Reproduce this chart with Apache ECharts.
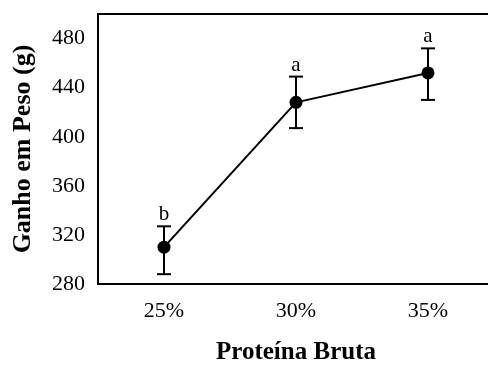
<!DOCTYPE html>
<html>
<head>
<meta charset="utf-8">
<script src="https://cdn.jsdelivr.net/npm/echarts@6/dist/echarts.min.js"></script>
<style>
  html, body { margin: 0; padding: 0; background: #fff; }
  #chart { width: 488px; height: 365px; }
</style>
</head>
<body>
<div id="chart"></div>
<script>
// Weight gain by crude protein level, with standard error and Tukey letters
const categories = ['25%', '30%', '35%'];
const meanGain = [310, 428, 452];
const upperBar = [327, 449, 472];
const lowerBar = [288, 407, 430];
const groupLetters = ['b', 'a', 'a'];
const yTicks = [280, 320, 360, 400, 440, 480];

const serif = '"Liberation Serif", "Times New Roman", serif';

const chart = echarts.init(document.getElementById('chart'));

const errorData = categories.map((c, i) => [i, lowerBar[i], upperBar[i], groupLetters[i]]);

chart.setOption({
  animation: false,
  backgroundColor: '#fff',
  grid: {
    left: 98, top: 14, width: 396, height: 270,
    outerBoundsMode: 'none',
    containLabel: false,
    show: true, borderColor: '#000', borderWidth: 2, backgroundColor: 'transparent'
  },
  xAxis: {
    type: 'category',
    data: categories,
    boundaryGap: true,
    name: 'Proteína Bruta',
    nameLocation: 'middle',
    nameGap: 56,
    nameTextStyle: { fontFamily: serif, fontWeight: 'bold', fontSize: 25, color: '#000' },
    axisLine: { lineStyle: { color: '#000', width: 2 } },
    axisTick: { inside: true, alignWithLabel: true, length: 5, lineStyle: { color: '#000', width: 1.5 } },
    axisLabel: { fontFamily: serif, fontSize: 22, color: '#000', margin: 16 },
    splitLine: { show: false }
  },
  yAxis: {
    type: 'value',
    min: 280, max: 500, interval: 40,
    name: 'Ganho em Peso (g)',
    nameLocation: 'middle',
    nameGap: 62,
    nameTextStyle: { fontFamily: serif, fontWeight: 'bold', fontSize: 26, color: '#000' },
    axisLine: { show: true, lineStyle: { color: '#000', width: 2 } },
    axisTick: { inside: true, length: 5, lineStyle: { color: '#000', width: 1.5 } },
    axisLabel: {
      fontFamily: serif, fontSize: 22, color: '#000', margin: 13,
      formatter: v => (yTicks.indexOf(v) >= 0 ? String(v) : '')
    },
    splitLine: { show: false }
  },
  series: [
    {
      type: 'custom',
      z: 3,
      data: errorData,
      renderItem: function (params, api) {
        const x = api.value(0);
        const lo = api.coord([x, api.value(1)]);
        const hi = api.coord([x, api.value(2)]);
        const cap = 7;
        const style = { stroke: '#000', lineWidth: 2 };
        return {
          type: 'group',
          children: [
            { type: 'line', shape: { x1: hi[0], y1: hi[1], x2: lo[0], y2: lo[1] }, style },
            { type: 'line', shape: { x1: hi[0] - cap, y1: hi[1], x2: hi[0] + cap, y2: hi[1] }, style },
            { type: 'line', shape: { x1: lo[0] - cap, y1: lo[1], x2: lo[0] + cap, y2: lo[1] }, style },
            {
              type: 'text',
              style: {
                x: hi[0], y: hi[1] - 1,
                text: api.value(3),
                font: '21px ' + serif,
                fill: '#000',
                textAlign: 'center',
                textVerticalAlign: 'bottom'
              }
            }
          ]
        };
      }
    },
    {
      type: 'line',
      z: 4,
      data: meanGain,
      symbol: 'circle',
      symbolSize: 13,
      lineStyle: { color: '#000', width: 2 },
      itemStyle: { color: '#000' }
    }
  ]
});
</script>
</body>
</html>
